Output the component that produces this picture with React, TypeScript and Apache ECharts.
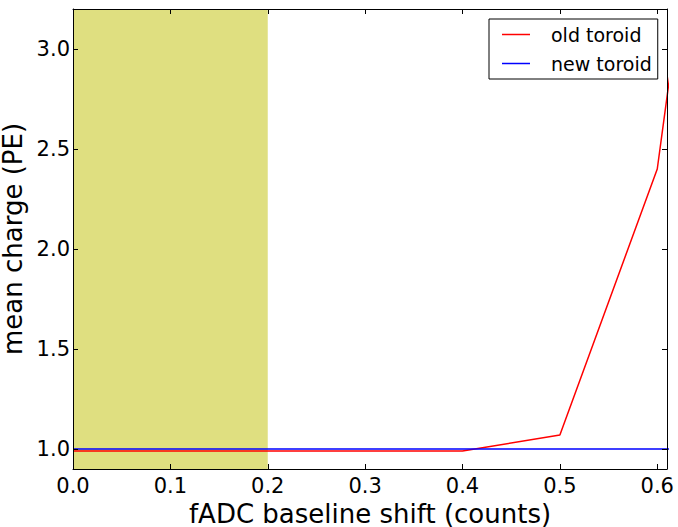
import React, { useEffect, useRef } from "react";
import * as echarts from "echarts";

const shiftValues = [0.0, 0.1, 0.2, 0.3, 0.4, 0.5, 0.6, 0.7];
const oldToroid = [0.99, 0.99, 0.99, 0.99, 0.99, 1.07, 2.4, 6.0];
const newToroid = [1.0, 1.0, 1.0, 1.0, 1.0, 1.0, 1.0, 1.0];
const xTicks = [0.0, 0.1, 0.2, 0.3, 0.4, 0.5, 0.6];
const yTicks = [1.0, 1.5, 2.0, 2.5, 3.0];
const shadedRange = [0.0, 0.2];

const FONT = "DejaVu Sans";

export default function App() {
  const ref = useRef<HTMLDivElement>(null);
  useEffect(() => {
    if (!ref.current) return;
    const chart = echarts.init(ref.current, undefined, { renderer: "svg" });
    const axisLineStyle = { show: true, onZero: false, lineStyle: { color: "#000", width: 1 } };
    const xBase = {
      type: "value" as const,
      min: 0,
      max: 0.61,
      z: 10,
      splitLine: { show: false },
      axisLine: axisLineStyle,
    };
    const yBase = {
      type: "value" as const,
      min: 0.9,
      max: 3.2,
      z: 10,
      splitLine: { show: false },
      axisLine: axisLineStyle,
    };
    chart.setOption({
      animation: false,
      backgroundColor: "#fff",
      textStyle: { fontFamily: FONT },
      grid: { left: 73, top: 9, right: 11, bottom: 58, containLabel: false, outerBoundsMode: "none" },
      xAxis: [
        {
          ...xBase,
          position: "bottom",
          name: "fADC baseline shift (counts)",
          nameLocation: "middle",
          nameGap: 27,
          nameTextStyle: { fontFamily: FONT, fontSize: 26, lineHeight: 26, color: "#000" },
          axisTick: { show: true, inside: true, length: 5, customValues: xTicks, lineStyle: { color: "#000" } },
          axisLabel: {
            show: true,
            customValues: xTicks,
            margin: 6,
            fontFamily: FONT,
            fontSize: 21,
            color: "#000",
            formatter: (v: number) => v.toFixed(1),
          },
        },
        {
          ...xBase,
          position: "top",
          axisTick: { show: true, inside: true, length: 5, customValues: xTicks, lineStyle: { color: "#000" } },
          axisLabel: { show: false },
        },
      ],
      yAxis: [
        {
          ...yBase,
          position: "left",
          name: "mean charge (PE)",
          nameLocation: "middle",
          nameGap: 37,
          nameTextStyle: { fontFamily: FONT, fontSize: 26, lineHeight: 26, color: "#000" },
          axisTick: { show: true, inside: true, length: 5, customValues: yTicks, lineStyle: { color: "#000" } },
          axisLabel: {
            show: true,
            customValues: yTicks,
            margin: 3,
            fontFamily: FONT,
            fontSize: 21,
            color: "#000",
            formatter: (v: number) => v.toFixed(1),
          },
        },
        {
          ...yBase,
          position: "right",
          axisTick: { show: true, inside: true, length: 5, customValues: yTicks, lineStyle: { color: "#000" } },
          axisLabel: { show: false },
        },
      ],
      legend: {
        data: ["old toroid", "new toroid"],
        orient: "vertical",
        left: 489,
        top: 19,
        padding: [5, 6, 5, 13],
        itemGap: 8,
        itemWidth: 28,
        itemHeight: 1.5,
        icon: "rect",
        backgroundColor: "#fff",
        borderColor: "#000",
        borderWidth: 1,
        borderRadius: 0,
        z: 20,
        textStyle: {
          fontFamily: FONT,
          fontSize: 19,
          lineHeight: 21,
          color: "#000",
          padding: [0, 0, 0, 16],
        },
      },
      series: [
        {
          name: "shade",
          type: "line",
          data: [],
          z: 1,
          silent: true,
          markArea: {
            silent: true,
            itemStyle: { color: "#dfdf80", opacity: 1 },
            data: [[{ xAxis: shadedRange[0] }, { xAxis: shadedRange[1] }]],
          },
        },
        {
          name: "old toroid",
          type: "line",
          z: 2,
          symbol: "none",
          clip: true,
          color: "#ff0000",
          lineStyle: { color: "#ff0000", width: 1.5 },
          data: shiftValues.map((x, i) => [x, oldToroid[i]]),
        },
        {
          name: "new toroid",
          type: "line",
          z: 3,
          symbol: "none",
          clip: true,
          color: "#0000ff",
          lineStyle: { color: "#0000ff", width: 1.5 },
          data: shiftValues.map((x, i) => [x, newToroid[i]]),
        },
      ],
    });
    return () => chart.dispose();
  }, []);
  return (
    <div
      ref={ref}
      style={{ position: "fixed", left: 0, top: 0, width: 678, height: 527 }}
    />
  );
}
